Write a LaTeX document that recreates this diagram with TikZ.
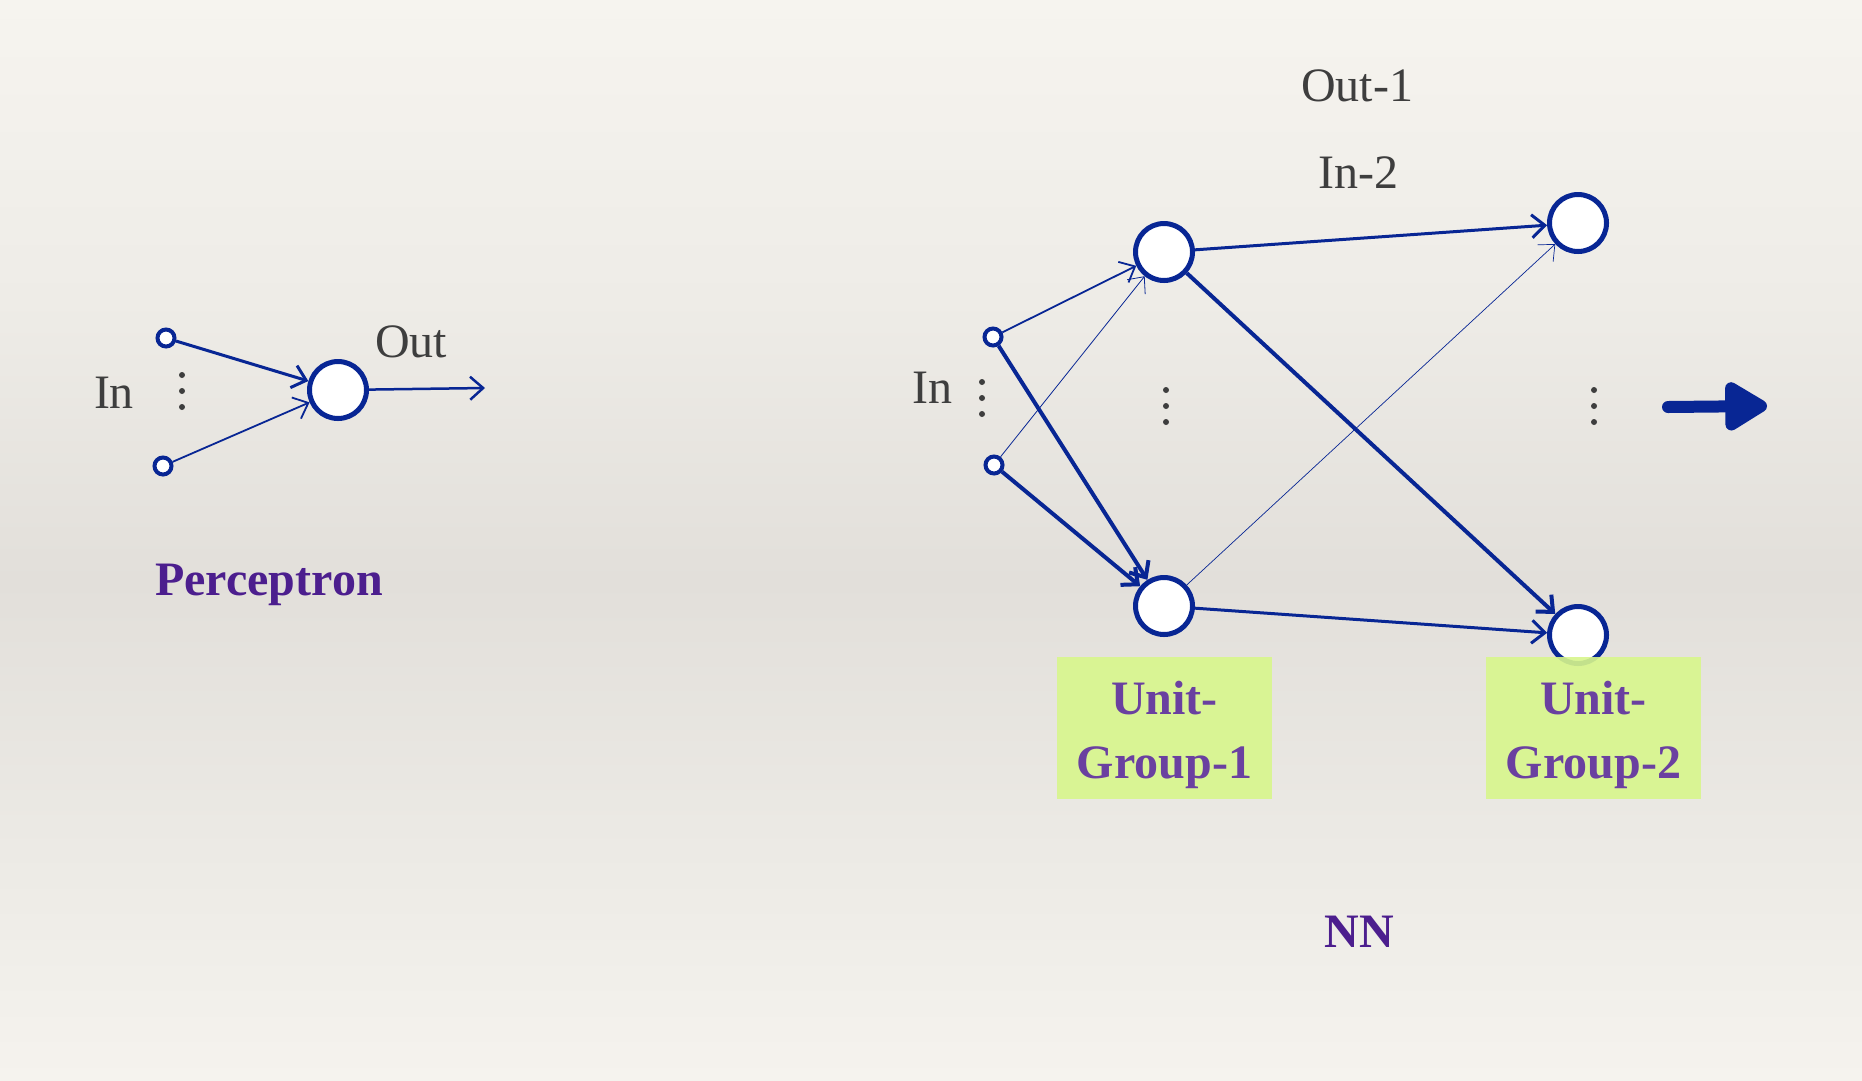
\documentclass[tikz,border=0pt]{standalone}
\usepackage{fontspec}
\setmainfont{Liberation Serif}
\usetikzlibrary{arrows.meta}
\definecolor{netblue}{RGB}{8,38,148}
\definecolor{txtgray}{RGB}{62,62,62}
\definecolor{titlepurple}{RGB}{76,30,142}
\definecolor{unitpurple}{RGB}{106,64,160}
\definecolor{boxgreen}{RGB}{216,246,140}
\definecolor{bgtop}{RGB}{246,244,239}
\definecolor{bghigh}{RGB}{238,236,231}
\definecolor{bgmid}{RGB}{226,223,218}
\definecolor{bglow}{RGB}{236,234,229}
\definecolor{bgbot}{RGB}{245,243,238}
\tikzset{
  bigunit/.style={circle,draw=netblue,fill=white,line width=5pt,minimum size=57pt,inner sep=0pt},
  inunit/.style={circle,draw=netblue,fill=white,line width=4pt,minimum size=17pt,inner sep=0pt},
  conn/.style={draw=netblue,-{Straight Barb[length=13pt,width=23pt]}},
  lbl/.style={anchor=base,text=txtgray,font=\fontsize{48}{56}\selectfont,inner sep=0pt},
  ttl/.style={anchor=base,text=titlepurple,font=\fontsize{48}{56}\selectfont\bfseries,inner sep=0pt},
  unittxt/.style={anchor=base,text=unitpurple,font=\fontsize{48}{56}\selectfont\bfseries,inner sep=0pt},
  greenbox/.style={rectangle,fill=boxgreen,fill opacity=0.9,minimum width=215pt,minimum height=142pt,inner sep=0pt},
  vdot/.style={fill=txtgray}
}
\begin{document}
\begin{tikzpicture}[x=1pt,y=-1pt]
\useasboundingbox (0,0) rectangle (1862,1080);
\shade[top color=bgtop,bottom color=bghigh] (0,0) rectangle (1862,301);
\shade[top color=bghigh,bottom color=bgmid] (0,300) rectangle (1862,581);
\shade[top color=bgmid,bottom color=bglow] (0,580) rectangle (1862,851);
\shade[top color=bglow,bottom color=bgbot] (0,850) rectangle (1862,1080);

% ---------- Perceptron ----------
\node[inunit] (pin1) at (166,338) {};
\node[inunit] (pin2) at (163,466) {};
\node[bigunit] (pcell) at (338,390) {};
\coordinate (pout) at (485,388);
\draw[conn,line width=3pt] (pin1) -- (pcell);
\draw[conn,line width=1.8pt] (pin2) -- (pcell);
\draw[conn,line width=2.5pt] (pcell) -- (pout);
\node[lbl] (pinlbl) at (114,408) {In};
\node[lbl] (poutlbl) at (411,357) {Out};
\foreach \yy in {375,391,407} \fill[vdot] (182,\yy) circle (3pt);
\node[ttl] (ptitle) at (269,595) {Perceptron};

% ---------- NN ----------
\node[inunit] (nin1) at (993,337) {};
\node[inunit] (nin2) at (994,465) {};
\node[bigunit] (g1t) at (1164,252) {};
\node[bigunit] (g1b) at (1164,606) {};
\node[bigunit] (g2t) at (1578,223) {};
\node[bigunit] (g2b) at (1578,635) {};

\draw[conn,line width=1.8pt] (nin1) -- (g1t);
\draw[conn,line width=0.8pt] (nin2) -- (g1t);
\draw[conn,line width=4pt] (nin1) -- (g1b);
\draw[conn,line width=4pt] (nin2) -- (g1b);
\draw[conn,line width=3pt] (g1t) -- (g2t);
\draw[conn,line width=4pt] (g1t) -- (g2b);
\draw[conn,line width=0.7pt] (g1b) -- (g2t);
\draw[conn,line width=3pt] (g1b) -- (g2b);

\node[lbl] (ninlbl) at (932,403) {In};
\foreach \yy in {382,398,414} \fill[vdot] (982,\yy) circle (3pt);
\foreach \yy in {390,406,422} \fill[vdot] (1166,\yy) circle (3pt);
\foreach \yy in {390,406,422} \fill[vdot] (1594,\yy) circle (3pt);

\node[lbl] (out1) at (1357,101) {Out-1};
\node[lbl] (in2) at (1358,188) {In-2};

\node[greenbox] (box1) at (1164.5,728) {};
\node[greenbox] (box2) at (1593.5,728) {};
\node[unittxt] (u1a) at (1164.5,714) {Unit-};
\node[unittxt] (u1b) at (1164.5,778) {Group-1};
\node[unittxt] (u2a) at (1593.5,714) {Unit-};
\node[unittxt] (u2b) at (1593.5,778) {Group-2};

\node[ttl] (nntitle) at (1359,947) {NN};

% big arrow
\coordinate (bigS) at (1668,407);
\coordinate (bigE) at (1767,406);
\draw[netblue,line width=12pt,line cap=round,-{Triangle[length=48pt,width=54pt,round]}] (bigS) -- (bigE);
\end{tikzpicture}
\end{document}
